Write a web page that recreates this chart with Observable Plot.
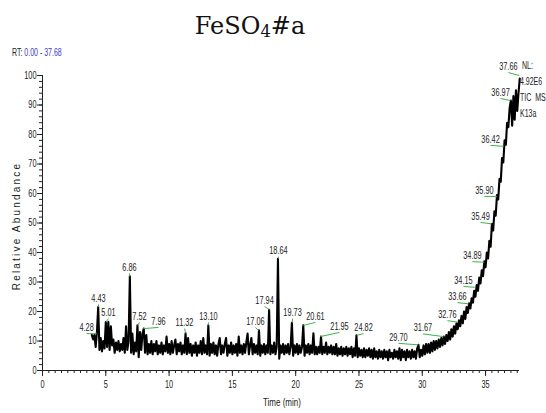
<!DOCTYPE html>
<html>
<head>
<meta charset="utf-8">
<script src="https://cdn.jsdelivr.net/npm/d3@7"></script>
<script src="https://cdn.jsdelivr.net/npm/@observablehq/plot@0.6"></script>
<style>
  html, body { margin: 0; padding: 0; background: #fff; overflow: hidden; }
  #wrap { position: relative; width: 546px; height: 413px; overflow: hidden; }
  .narrow { font-family: "Liberation Sans", Arial, sans-serif; font-size: 10px; color: #222; position: absolute; white-space: nowrap; line-height: 1; transform: scaleX(0.7); transform-origin: 0 50%; }
  #title { position: absolute; left: 0; width: 500px; top: 14px; text-align: center; font-family: "DejaVu Serif", serif; font-size: 24px; color: #111; line-height: 1; }
  #title sub { font-size: 0.68em; vertical-align: -0.2em; line-height: 0; }
  #chart { position: absolute; left: 0; top: 0; }
  #ylab { position: absolute; left: 17px; top: 226px; transform: translate(-50%,-50%) rotate(-90deg); font-family: "Liberation Sans", Arial, sans-serif; font-size: 10px; color: #222; letter-spacing: 2.2px; white-space: nowrap; line-height: 1; }
</style>
</head>
<body>
<div id="wrap">
  <div id="chart"></div>
  <div id="title">FeSO<sub>4</sub>#a</div>
  <div class="narrow" style="left:12px; top:48px;">RT: <span style="color:#3a3ad0">0.00 - 37.68</span></div>
  <div class="narrow" style="left:522px; top:61px;">NL:</div>
  <div class="narrow" style="left:520px; top:77px;">4.92E6</div>
  <div class="narrow" style="left:520px; top:93px;">TIC&nbsp;&nbsp;MS</div>
  <div class="narrow" style="left:520px; top:109px;">K13a</div>
  <div class="narrow" style="left:263px; top:398px; transform: scaleX(0.8);">Time (min)</div>
  <div id="ylab">Relative Abundance</div>
</div>
<script>
// Chromatogram trace: retention time starts at 3.9 min, one reading every 0.1 min
const traceStart = 3.9;
const traceStep = 0.1;
const abundance = [
  12,
  10.5, 12, 8, 13, 21.5, 7, 11, 6.5, 10, 7.5,
  16.4, 8, 16.5, 7, 15, 8.5, 10.5, 6, 9.5, 7,
  10, 6.5, 9, 7, 11, 6, 15, 7, 10, 31.9,
  6, 12.5, 5.5, 9.5, 6.5, 15.3, 4.5, 13, 7, 12.5,
  14.2, 6, 12, 5.5, 9, 6, 10, 5.5, 9, 6.5,
  10, 5.5, 8.5, 6, 9.5, 5.5, 8.5, 6.5, 11.5, 6,
  9, 5.5, 10, 6, 8.5, 10.5, 5.5, 9, 6.5, 9.5,
  5.5, 8.5, 6, 12.6, 5.5, 11, 6, 9, 5, 8.5,
  6, 9.5, 5, 8.5, 6, 10, 5.5, 11, 6, 8.5,
  5.5, 15.3, 5, 9, 6, 9.5, 5.5, 8.5, 5, 9,
  11, 5.5, 8.5, 6, 9, 11, 5, 8.5, 6, 9.5,
  5.5, 8.5, 6, 9, 5, 11.5, 6, 8.5, 5.5, 9,
  6, 9.5, 12.5, 5.5, 8.5, 11, 5.5, 9, 6, 8.5,
  5.5, 13.6, 5, 8.5, 6, 9, 5.5, 8.5, 6, 20.6,
  5.5, 8.5, 6, 9.5, 5.5, 8, 37.9, 4, 8.5, 6,
  9, 5.5, 8.5, 6, 9, 5.5, 8, 16.2, 5, 8.5,
  6, 9, 5.5, 8.5, 6, 8, 15.3, 5, 8.5, 6,
  9, 5.5, 8.5, 6, 12.6, 5.5, 8, 5.5, 8, 6,
  11.5, 5.5, 8, 6, 9.5, 5.5, 8, 6, 8.5, 5.5,
  8, 5.5, 9, 5, 7.5, 5.5, 8, 5, 7.5, 5.5,
  8, 5, 7.5, 5.5, 8, 4.5, 7.5, 5, 11.9, 4.5,
  7.5, 5, 7, 4.5, 7.5, 4.5, 7, 5, 7.5, 4.5,
  7, 4, 7.5, 4.5, 6.5, 4, 7, 4.5, 6.5, 4,
  7, 4.5, 6.5, 3.5, 7, 4.5, 6, 4, 7, 4.5,
  6.5, 4, 7.5, 3.5, 7, 4.5, 6.5, 3.5, 7, 4.5,
  6.5, 4, 7, 4.5, 6.5, 4, 7.5, 8.7, 4.5, 7,
  5, 8.5, 5.5, 9, 6, 9, 6, 9.5, 6.5, 10,
  7, 10, 7.5, 10.5, 8, 11, 8.5, 11.5, 9, 12,
  10, 13, 10.5, 14, 11.5, 15, 12.5, 16, 14, 17,
  15, 18.5, 16, 20, 17.5, 21.5, 19.5, 22.8, 21, 24.5,
  23, 27, 25, 29, 27, 31.5, 29.5, 34, 32, 37,
  35, 40, 38, 44, 42, 49.7, 47.5, 54, 52.5, 59.5,
  58, 65, 64, 72, 70.5, 78, 76.5, 84, 82.5, 89,
  91.5, 83, 93, 85, 95, 88, 94, 99
];

// Peak annotations
const peakLabels  = ["4.28","4.43","5.01","6.86","7.52","7.96","11.32","13.10","17.06","17.94","18.64","19.73","20.61","21.95","24.82","29.70","31.67","32.76","33.66","34.15","34.89","35.49","35.90","36.42","36.97","37.66"];
const peakTimes   = [4.28, 4.43, 5.01, 6.86, 7.52, 7.96, 11.32, 13.10, 17.06, 17.94, 18.64, 19.73, 20.61, 21.95, 24.82, 29.70, 31.67, 32.76, 33.66, 34.15, 34.89, 35.49, 35.90, 36.42, 36.97, 37.66];
const peakHeights = [12.5, 21.5, 16.4, 31.9, 15.3, 14.2, 12.6, 15.3, 13.6, 20.6, 37.9, 16.2, 15.3, 11.5, 11.9, 8.7, 11.5, 16.4, 22.6, 28.2, 36.7, 49.7, 59, 76, 91.5, 100];
const labelTimes  = [3.48, 4.42, 5.21, 6.87, 7.66, 9.16, 11.22, 13.11, 16.82, 17.54, 18.64, 19.75, 21.56, 23.46, 25.36, 28.12, 30.05, 31.99, 32.78, 33.25, 33.96, 34.6, 34.91, 35.39, 36.18, 36.8];
const labelHeights= [12.5, 22.4, 17.6, 32.9, 16.3, 14.6, 14.2, 16.3, 14.6, 21.7, 38.6, 17.6, 16.3, 12.9, 12.5, 9.2, 12.4, 16.9, 23, 28.5, 36.9, 50.2, 59, 76.3, 92.2, 101];

// Axis ticks
const xTicks = [0, 5, 10, 15, 20, 25, 30, 35];
const yTicks = [0, 10, 20, 30, 40, 50, 60, 70, 80, 90, 100];
const xMinorStep = 0.5;
const yMinorStep = 2;
const xMax = 37.68;

const trace = abundance.map((a, i) => ({t: +(traceStart + i * traceStep).toFixed(2), a}));
const labels = peakLabels.map((s, i) => ({s, pt: peakTimes[i], pa: peakHeights[i], lt: labelTimes[i], la: labelHeights[i]}));
const xMinor = d3.range(0, xMax + 1e-9, xMinorStep);
const yMinor = d3.range(0, 100 + 1e-9, yMinorStep);

const font = '"Liberation Sans", Arial, sans-serif';

const chart = Plot.plot({
  width: 546,
  height: 413,
  marginLeft: 42,
  marginRight: 27,
  marginTop: 75,
  marginBottom: 43,
  x: {domain: [0, xMax]},
  y: {domain: [0, 100]},
  style: {fontFamily: font, fontSize: "10px", color: "#222", background: "transparent", overflow: "visible"},
  marks: [
    Plot.axisY({ticks: yMinor, tickSize: 3, text: null, label: null, stroke: "#222"}),
    Plot.axisY({ticks: yTicks, tickSize: 5, tickPadding: 1, label: null, stroke: "#222", fontSize: 10.5}),
    Plot.axisX({ticks: xMinor, tickSize: 3, text: null, label: null, stroke: "#222"}),
    Plot.axisX({ticks: xTicks, tickSize: 6, tickPadding: 4, label: null, stroke: "#222", fontSize: 10.5}),
    Plot.ruleX([0], {stroke: "#222"}),
    Plot.ruleY([0], {stroke: "#222"}),
    Plot.line(trace, {x: "t", y: "a", stroke: "#000", strokeWidth: 2.1}),
    Plot.link(labels, {x1: "lt", y1: "la", x2: "pt", y2: "pa", stroke: "#3fb24a", strokeWidth: 1}),
    Plot.text(labels, {x: "lt", y: "la", text: "s", dy: -6, fill: "#222", fontSize: 10.5})
  ]
});
document.getElementById("chart").appendChild(chart);
// condense SVG texts to mimic the narrow instrument font
chart.querySelectorAll("text").forEach(el => {
  const w = el.getComputedTextLength();
  if (w > 0) {
    el.setAttribute("textLength", (w * 0.7).toFixed(2));
    el.setAttribute("lengthAdjust", "spacingAndGlyphs");
  }
});
</script>
</body>
</html>
